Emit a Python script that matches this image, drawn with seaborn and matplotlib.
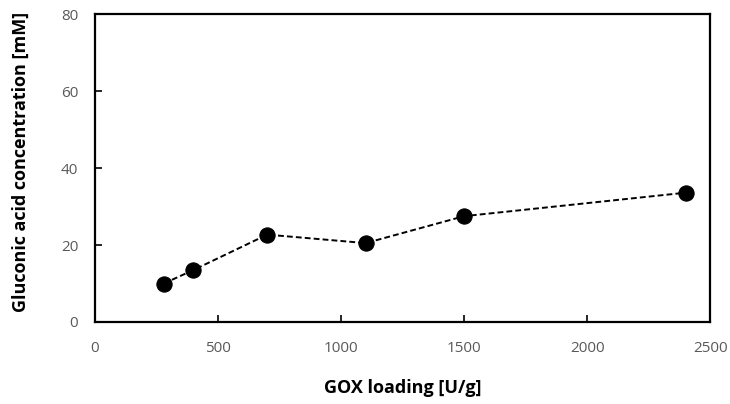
import matplotlib
matplotlib.use("Agg")
import matplotlib.pyplot as plt
import seaborn as sns
import pandas as pd

# GOX loading vs. gluconic acid produced
gox_loading = [280, 400, 700, 1100, 1500, 2400]
gluconic_acid = [10.0, 13.5, 22.7, 20.5, 27.5, 33.6]

x_ticks = [0, 500, 1000, 1500, 2000, 2500]
y_ticks = [0, 20, 40, 60, 80]

sns.set_style("white")
plt.rcParams["font.family"] = ["Open Sans", "DejaVu Sans"]

df = pd.DataFrame({"gox": gox_loading, "acid": gluconic_acid})

fig = plt.figure(figsize=(7.3, 4.04), dpi=100)
ax = fig.add_axes([0.130, 0.203, 0.843, 0.762])

sns.lineplot(data=df, x="gox", y="acid", ax=ax, color="black",
             linestyle=(0, (3, 1.6)), linewidth=1.4,
             marker="o", markersize=11, markeredgecolor="black",
             markerfacecolor="black", errorbar=None)

ax.set_xlim(0, 2500)
ax.set_ylim(0, 80)
ax.set_xticks(x_ticks)
ax.set_yticks(y_ticks)

for s in ax.spines.values():
    s.set_visible(True)
    s.set_color("black")
    s.set_linewidth(1.6)

ax.tick_params(axis="both", direction="in", length=5, width=1.2,
               colors="black", labelcolor="#595959", labelsize=11)
ax.tick_params(axis="x", pad=14, top=False, bottom=True)
ax.tick_params(axis="y", pad=12, right=False, left=True)

ax.set_xlabel("GOX loading [U/g]", fontsize=13, fontweight="bold",
              color="black")
ax.set_ylabel("Gluconic acid concentration [mM]", fontsize=13,
              fontweight="bold", color="black")
ax.xaxis.set_label_coords(0.5, -0.185)
ax.yaxis.set_label_coords(-0.106, 0.52)

fig.savefig("out.png", dpi=100)
